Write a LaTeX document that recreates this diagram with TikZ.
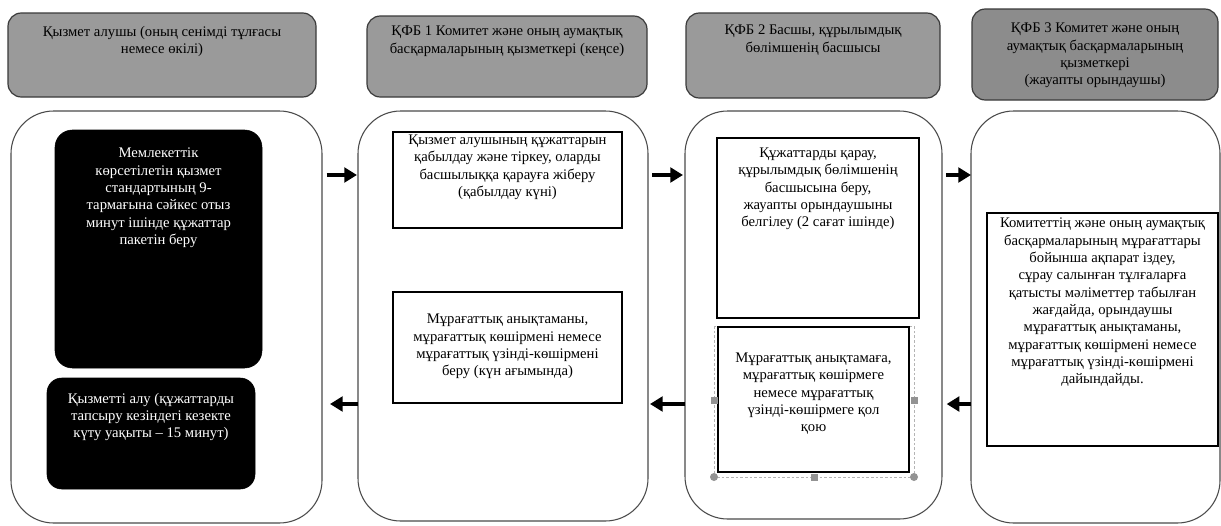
\documentclass[tikz,border=0pt]{standalone}
\usepackage{fontspec}
\setmainfont{Liberation Serif}
\usetikzlibrary{calc,arrows.meta}
\definecolor{hdr}{HTML}{9A9A9A}
\definecolor{hdrdark}{HTML}{8C8C8C}
\definecolor{hdrline}{HTML}{3A3A3A}
\definecolor{laneline}{HTML}{4A4A4A}
\definecolor{selline}{HTML}{B4B4B4}
\definecolor{handle}{HTML}{939393}
\begin{document}
\begin{tikzpicture}[x=0.75pt,y=-0.75pt,
  every node/.style={inner sep=0pt,outer sep=0pt},
  hdrbox/.style={draw=hdrline,line width=0.9pt,fill=hdr,rounded corners=10pt,anchor=north west},
  lanebox/.style={draw=laneline,line width=0.8pt,fill=white,rounded corners=32pt,anchor=north west},
  blackbox/.style={draw=black,fill=black,rounded corners=13pt,anchor=north west},
  stepbox/.style={draw=black,line width=0.8pt,fill=white,anchor=north west},
  txt/.style={align=center,font=\fontsize{11}{13}\selectfont,text=black},
  wtxt/.style={align=center,font=\fontsize{11}{13}\selectfont,text=white},
  arr/.style={line width=2.6pt,-{Triangle[length=9.5pt,width=11pt]}},
  sel/.style={draw=selline,line width=0.6pt,dash pattern=on 2pt off 1.5pt},
  hsq/.style={fill=handle},
]
\useasboundingbox[fill=white] (0,0) rectangle (1221,525);

% headers
\node[hdrbox,minimum width=231pt,minimum height=63pt] (H1) at (8,13) {};
\node[hdrbox,minimum width=210pt,minimum height=60.75pt] (H2) at (367,16) {};
\node[hdrbox,minimum width=190.5pt,minimum height=63.75pt] (H3) at (686,13) {};
\node[hdrbox,fill=hdrdark,minimum width=184.5pt,minimum height=68.25pt] (H4) at (972,9) {};
\node[txt,anchor=north] (tH1) at ($(H1.north)+(0,13)$) {Қызмет алушы (оның сенімді тұлғасы\\немесе өкілі)};
\node[txt,anchor=north] (tH2) at ($(H2.north)+(0,10)$) {ҚФБ 1 Комитет және оның аумақтық\\басқармаларының қызметкері (кеңсе)};
\node[txt,anchor=north] (tH3) at ($(H3.north)+(0,12)$) {ҚФБ 2 Басшы, құрылымдық\\бөлімшенің басшысы};
\node[txt] (tH4) at ($(H4.center)+(0,1)$) {ҚФБ 3 Комитет және оның\\аумақтық басқармаларының\\қызметкері\\ (жауапты орындаушы)};

% lanes
\node[lanebox,minimum width=233.25pt,minimum height=309pt] (L1) at (11,111) {};
\node[lanebox,minimum width=217.5pt,minimum height=307.5pt] (L2) at (358,111) {};
\node[lanebox,minimum width=192.75pt,minimum height=306pt] (L3) at (685,111) {};
\node[lanebox,minimum width=186.75pt,minimum height=309pt] (L4) at (971,111) {};

% lane 1
\node[blackbox,minimum width=155.25pt,minimum height=178.5pt] (K1) at (55,130) {};
\node[wtxt,anchor=north] (tK1) at ($(K1.north)+(0,18)$) {Мемлекеттік\\көрсетілетін қызмет\\стандартының 9-\\тармағына сәйкес отыз\\минут ішінде құжаттар\\пакетін беру};
\node[blackbox,rounded corners=11pt,minimum width=156pt,minimum height=83.25pt] (K2) at (47,378) {};
\node[wtxt,anchor=north] (tK2) at ($(K2.north)+(0,15)$) {Қызметті алу (құжаттарды\\тапсыру кезіндегі кезекте\\күту уақыты – 15 минут)};

% lane 2
\node[stepbox,minimum width=171.75pt,minimum height=72pt] (A) at (393,132) {};
\node[txt,anchor=north] (tA) at ($(A.north)+(0,3)$) {Қызмет алушының құжаттарын\\қабылдау және тіркеу, оларды\\басшылыққа қарауға жіберу\\(қабылдау күні)};
\node[stepbox,minimum width=171.75pt,minimum height=83.25pt] (B) at (393,292) {};
\node[txt] (tB) at ($(B.center)+(0,-1)$) {Мұрағаттық анықтаманы,\\мұрағаттық көшірмені немесе\\мұрағаттық үзінді-көшірмені\\беру (күн ағымында)};

% lane 3
\node[stepbox,minimum width=151.5pt,minimum height=135pt] (C) at (717,138) {};
\node[txt,anchor=north] (tC) at ($(C.north)+(0,10)$) {Құжаттарды қарау,\\құрылымдық бөлімшенің\\басшысына беру,\\жауапты орындаушыны\\белгілеу (2 сағат ішінде)};
\draw[sel] (714,326) rectangle (914,477);
\node[stepbox,minimum width=143.25pt,minimum height=108.75pt] (D) at (718,327) {};
\node[txt,anchor=north] (tD) at ($(D.north)+(0,26)$) {Мұрағаттық анықтамаға,\\мұрағаттық көшірмеге\\немесе мұрағаттық\\үзінді-көшірмеге қол\\қою};
\fill[hsq] (710.5,396.5) rectangle (717.5,403.5);
\fill[hsq] (910.5,396.5) rectangle (917.5,403.5);
\fill[hsq] (810.5,473.5) rectangle (817.5,480.5);
\fill[hsq] (714,477) circle (3pt);
\fill[hsq] (914,477) circle (3pt);

% lane 4
\node[stepbox,minimum width=173.25pt,minimum height=174.75pt] (E) at (987,213) {};
\node[txt,anchor=north] (tE) at ($(E.north)+(0,5)$) {Комитеттің және оның аумақтық\\басқармаларының мұрағаттары\\бойынша ақпарат іздеу,\\сұрау салынған тұлғаларға\\қатысты мәліметтер табылған\\жағдайда, орындаушы\\мұрағаттық анықтаманы,\\мұрағаттық көшірмені немесе\\мұрағаттық үзінді-көшірмені\\дайындайды.};

% arrows
\draw[arr,shorten <=3.5pt,shorten >=0.8pt] (L1.east |- 0,175) -- (L2.west |- 0,175);
\draw[arr,shorten <=3pt,shorten >=1.5pt] (L2.east |- 0,175) -- (L3.west |- 0,175);
\draw[arr,shorten <=3pt,shorten >=0pt] (L3.east |- 0,175) -- (L4.west |- 0,175);
\draw[arr,shorten <=0pt,shorten >=6pt] (L2.west |- 0,404) -- (L1.east |- 0,404);
\draw[arr,shorten <=0pt,shorten >=1.5pt] (L3.west |- 0,404) -- (L2.east |- 0,404);
\draw[arr,shorten <=0pt,shorten >=3.5pt] (L4.west |- 0,404) -- (L3.east |- 0,404);
\end{tikzpicture}
\end{document}
